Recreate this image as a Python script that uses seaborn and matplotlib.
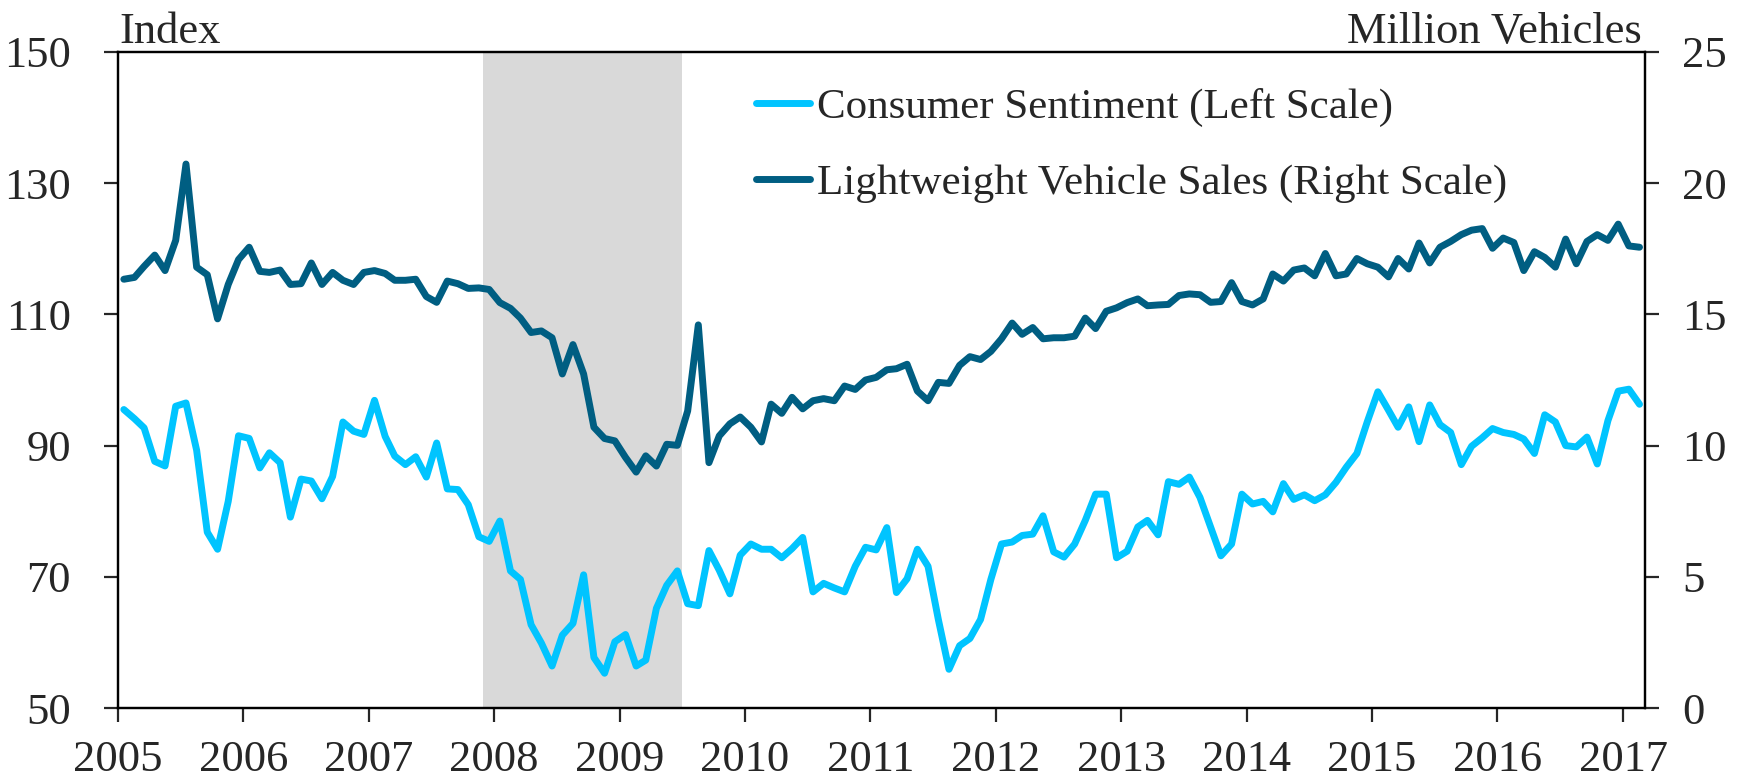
import pandas as pd
import numpy as np
import matplotlib.pyplot as plt
import matplotlib.dates as mdates
import seaborn as sns

# monthly data, Jan 2005 - Feb 2017
start_month = "2005-01-01"

sentiment = [
    95.5, 94.1, 92.7, 87.6, 86.9, 96.0, 96.5, 89.3, 76.8, 74.2, 81.5, 91.5,
    91.1, 86.6, 88.9, 87.4, 79.1, 84.9, 84.6, 81.9, 85.3, 93.6, 92.2, 91.7,
    96.9, 91.4, 88.4, 87.1, 88.3, 85.2, 90.4, 83.4, 83.3, 81.0, 76.1, 75.4,
    78.5, 70.9, 69.6, 62.7, 59.9, 56.4, 61.1, 62.9, 70.3, 57.7, 55.3, 60.1,
    61.2, 56.4, 57.3, 65.2, 68.7, 70.9, 65.9, 65.6, 74.0, 71.0, 67.4, 73.3,
    75.0, 74.2, 74.2, 72.9, 74.3, 76.0, 67.7, 69.0, 68.3, 67.7, 71.6, 74.5,
    74.1, 77.5, 67.6, 69.7, 74.2, 71.6, 63.5, 55.9, 59.5, 60.6, 63.5, 69.6,
    75.0, 75.3, 76.3, 76.5, 79.3, 73.8, 73.0, 75.0, 78.6, 82.6, 82.6, 72.9,
    73.9, 77.6, 78.6, 76.4, 84.5, 84.1, 85.2, 82.1, 77.6, 73.2, 75.0, 82.6,
    81.1, 81.5, 79.9, 84.2, 81.8, 82.5, 81.6, 82.5, 84.4, 86.7, 88.8, 93.6,
    98.2, 95.4, 92.8, 95.9, 90.6, 96.2, 93.2, 92.0, 87.1, 89.9, 91.2, 92.6,
    92.0, 91.7, 91.0, 88.8, 94.7, 93.6, 90.0, 89.8, 91.3, 87.2, 93.8, 98.3,
    98.6, 96.3,
]

vehicle_sales = [
    16.34, 16.41, 16.83, 17.26, 16.67, 17.82, 20.73, 16.80, 16.51, 14.83, 16.14, 17.09,
    17.56, 16.64, 16.60, 16.69, 16.14, 16.17, 16.96, 16.14, 16.60, 16.30, 16.14, 16.60,
    16.67, 16.56, 16.30, 16.30, 16.34, 15.68, 15.46, 16.27, 16.17, 15.99, 16.01, 15.95,
    15.45, 15.23, 14.86, 14.31, 14.37, 14.11, 12.73, 13.85, 12.73, 10.70, 10.27, 10.18,
    9.55, 8.99, 9.61, 9.22, 10.05, 10.01, 11.32, 14.60, 9.35, 10.37, 10.83, 11.09,
    10.70, 10.14, 11.58, 11.23, 11.84, 11.40, 11.71, 11.79, 11.71, 12.27, 12.14, 12.50,
    12.60, 12.89, 12.93, 13.10, 12.08, 11.71, 12.41, 12.37, 13.06, 13.39, 13.28, 13.59,
    14.07, 14.67, 14.24, 14.50, 14.07, 14.11, 14.11, 14.17, 14.86, 14.46, 15.12, 15.25,
    15.45, 15.59, 15.33, 15.36, 15.38, 15.72, 15.78, 15.75, 15.46, 15.49, 16.21, 15.49,
    15.36, 15.59, 16.54, 16.27, 16.69, 16.77, 16.47, 17.32, 16.47, 16.54, 17.13, 16.93,
    16.80, 16.43, 17.13, 16.73, 17.72, 16.96, 17.56, 17.78, 18.04, 18.21, 18.27, 17.52,
    17.91, 17.74, 16.67, 17.39, 17.17, 16.80, 17.87, 16.93, 17.78, 18.04, 17.82, 18.44,
    17.61, 17.56,
]

recession = ("2007-12-01", "2009-07-01")
years = list(range(2005, 2018))

light = "#00C4FF"
dark = "#005E82"

dates = pd.date_range(start_month, periods=len(sentiment), freq="MS") + pd.Timedelta(days=17)
df = pd.DataFrame({"date": dates, "sentiment": sentiment, "sales": vehicle_sales})

sns.set_style("white")
plt.rcParams["font.family"] = ["Liberation Serif", "DejaVu Serif"]

fig = plt.figure(figsize=(17.48, 7.82), dpi=100)
ax = fig.add_axes([118 / 1748, 1 - 708 / 782, (1645 - 118) / 1748, (708 - 52) / 782])
ax2 = ax.twinx()

ax.axvspan(pd.Timestamp(recession[0]), pd.Timestamp(recession[1]), color="#D9D9D9", lw=0, zorder=0)

sns.lineplot(data=df, x="date", y="sentiment", ax=ax, color=light, lw=5,
             label="Consumer Sentiment (Left Scale)", legend=False)
sns.lineplot(data=df, x="date", y="sales", ax=ax2, color=dark, lw=5,
             label="Lightweight Vehicle Sales (Right Scale)", legend=False)

ax.set_ylim(50, 150)
ax.set_yticks(range(50, 151, 20))
ax2.set_ylim(0, 25)
ax2.set_yticks(range(0, 26, 5))
ax.set_xlim(pd.Timestamp("2005-01-01"), pd.Timestamp("2017-03-06"))
ax.set_xticks([pd.Timestamp(f"{y}-01-01") for y in years])
ax.xaxis.set_major_formatter(mdates.DateFormatter("%Y"))

ax.set_xlabel("")
ax.set_ylabel("")
ax2.set_ylabel("")

for a in (ax, ax2):
    for s in a.spines.values():
        s.set_color("black")
        s.set_linewidth(1.6)
ax.tick_params(axis="y", direction="out", length=10, width=1.6, labelsize=32, pad=24, left=True)
ax.tick_params(axis="x", direction="out", length=10, width=1.6, labelsize=32, pad=13, bottom=True)
ax2.tick_params(axis="y", direction="out", length=10, width=1.6, labelsize=32, pad=17, right=True)

fig.text(119 / 1748, 1 - 43 / 782, "Index", fontsize=32, ha="left", va="baseline")
fig.text(1642 / 1748, 1 - 43 / 782, "Million Vehicles", fontsize=32, ha="right", va="baseline")

h1, l1 = ax.get_legend_handles_labels()
h2, l2 = ax2.get_legend_handles_labels()
ax2.legend(h1 + h2, l1 + l2, loc="upper left", bbox_to_anchor=(0.418, 0.945), frameon=False,
           fontsize=31, handlelength=1.25, handletextpad=0.15, labelspacing=0.85,
           borderaxespad=0, borderpad=0)

fig.savefig("out.png", dpi=100)
